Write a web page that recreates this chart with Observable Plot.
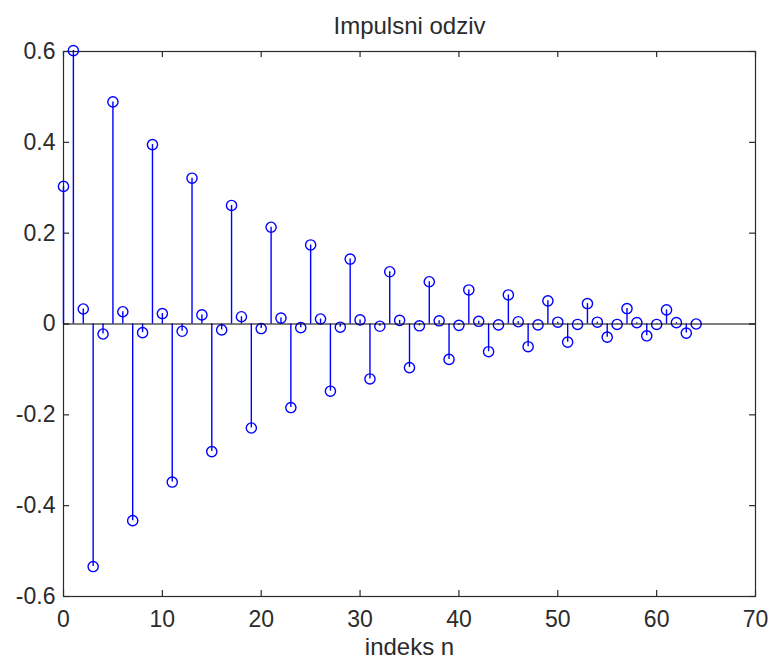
<!DOCTYPE html>
<html>
<head>
<meta charset="utf-8">
<script src="https://cdn.jsdelivr.net/npm/d3@7"></script>
<script src="https://cdn.jsdelivr.net/npm/@observablehq/plot@0.6"></script>
<style>
  html, body { margin: 0; padding: 0; background: #fff; }
</style>
</head>
<body>
<div id="chart"></div>
<script>
// Impulse response h[n], n = 0..64
const values = [
  0.303, 0.602, 0.033, -0.534, -0.022, 0.489, 0.027, -0.433, -0.019, 0.395,
  0.023, -0.348, -0.016, 0.321, 0.020, -0.281, -0.013, 0.261, 0.016, -0.229,
  -0.010, 0.213, 0.013, -0.184, -0.008, 0.174, 0.011, -0.148, -0.007, 0.143,
  0.009, -0.121, -0.005, 0.115, 0.008, -0.096, -0.004, 0.093, 0.007, -0.078,
  -0.003, 0.075, 0.006, -0.061, -0.002, 0.064, 0.005, -0.050, -0.002, 0.051,
  0.004, -0.040, -0.001, 0.045, 0.004, -0.029, -0.001, 0.034, 0.003, -0.026,
  -0.001, 0.031, 0.003, -0.020, 0.000
];
const xTicks = [0, 10, 20, 30, 40, 50, 60, 70];
const yTicks = [-0.6, -0.4, -0.2, 0, 0.2, 0.4, 0.6];
const titleText = "Impulsni odziv";
const xLabel = "indeks n";

const data = values.map((v, i) => ({n: i, v}));

const W = 772, H = 661;
const M = {left: 63, right: 17, top: 51, bottom: 65};
const frameW = W - M.left - M.right;
const frameH = H - M.top - M.bottom;

const blue = "#0000ff";
const ink = "#2b2b2b";
const font = "'Liberation Sans', Arial, Helvetica, sans-serif";
const T = 6; // inward tick length

const chart = Plot.plot({
  width: W, height: H,
  marginLeft: M.left, marginRight: M.right, marginTop: M.top, marginBottom: M.bottom,
  style: {fontFamily: font, fontSize: "23px", background: "#fff", color: ink, overflow: "visible"},
  x: {domain: [0, 70], ticks: xTicks},
  y: {domain: [-0.6, 0.6], ticks: yTicks},
  marks: [
    // inward ticks on all four sides
    Plot.ruleX(xTicks, {x: d => d, insetTop: frameH - T, stroke: ink, strokeWidth: 1.2}),
    Plot.ruleX(xTicks, {x: d => d, insetBottom: frameH - T, stroke: ink, strokeWidth: 1.2}),
    Plot.ruleY(yTicks, {y: d => d, insetRight: frameW - T, stroke: ink, strokeWidth: 1.2}),
    Plot.ruleY(yTicks, {y: d => d, insetLeft: frameW - T, stroke: ink, strokeWidth: 1.2}),
    Plot.frame({stroke: ink, strokeWidth: 1.2}),
    // tick labels
    Plot.axisX(xTicks, {anchor: "bottom", tickSize: 0, tickPadding: 14, tickFormat: d => String(d), label: null, fill: ink}),
    Plot.axisY(yTicks, {anchor: "left", tickSize: 0, tickPadding: 8, tickFormat: d => String(d), label: null, fill: ink}),
    // stems
    Plot.ruleX(data, {x: "n", y1: 0, y2: "v", stroke: blue, strokeWidth: 1.4}),
    // markers
    Plot.dot(data, {x: "n", y: "v", r: 5.1, stroke: blue, fill: "none", strokeWidth: 1.4}),
    // baseline
    Plot.ruleY([0], {stroke: "#000", strokeWidth: 1.2}),
    // title and x label
    Plot.text([titleText], {text: d => d, frameAnchor: "top", lineAnchor: "bottom", dy: -18, fontSize: 24, fill: ink}),
    Plot.text([xLabel], {text: d => d, frameAnchor: "bottom", lineAnchor: "bottom", dy: 58, fontSize: 24, fill: ink})
  ]
});

document.getElementById("chart").appendChild(chart);
</script>
</body>
</html>
